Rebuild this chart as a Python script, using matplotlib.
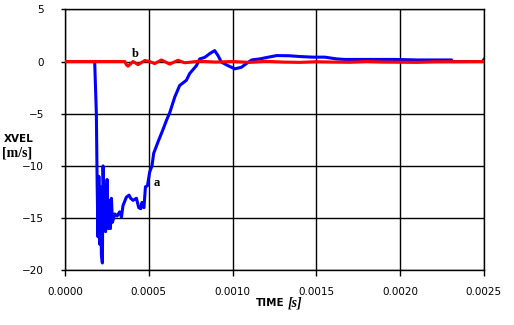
import numpy as np
import matplotlib
matplotlib.use('Agg')
import matplotlib.pyplot as plt

# curve a (blue) - time [s], velocity [m/s]
t_a = [0.0, 0.000177, 0.000187, 0.000192, 0.000197, 0.000202, 0.000207, 0.000212,
       0.000217, 0.000223, 0.000227, 0.000233, 0.000242, 0.000251, 0.000258, 0.000267,
       0.000271, 0.000277, 0.000283, 0.000297, 0.000311, 0.000326, 0.000337, 0.000346,
       0.000366, 0.000382, 0.000392, 0.000406, 0.000426, 0.000440, 0.000452, 0.000459,
       0.000471, 0.000480, 0.000492, 0.000499, 0.000505, 0.000519, 0.000529, 0.000555,
       0.000585, 0.000605, 0.000625, 0.000655, 0.000684, 0.000724, 0.000744, 0.000784,
       0.000804, 0.000834, 0.000863, 0.000893, 0.000913, 0.000933, 0.000973, 0.001013,
       0.001053, 0.001082, 0.001114, 0.001162, 0.001192, 0.001263, 0.001340, 0.001400,
       0.001478, 0.001550, 0.001621, 0.001669, 0.001818, 0.001967, 0.002104, 0.002307,
       0.002312, 0.002492, 0.0025]
v_a = [0.0, 0.0, -5.0, -12.0, -16.8, -11.0, -17.5, -12.0,
       -18.5, -19.3, -10.0, -14.0, -16.3, -11.3, -16.0, -13.3,
       -16.0, -13.1, -15.4, -14.6, -14.8, -14.4, -14.9, -13.8,
       -13.0, -12.8, -13.1, -13.3, -13.1, -14.0, -14.1, -13.5,
       -14.0, -12.0, -11.9, -11.2, -10.6, -10.0, -8.8, -7.7,
       -6.5, -5.65, -4.9, -3.4, -2.3, -1.8, -1.15, -0.4,
       0.25, 0.4, 0.75, 1.05, 0.57, -0.05, -0.4, -0.7,
       -0.55, -0.2, 0.15, 0.25, 0.35, 0.57, 0.55, 0.48,
       0.42, 0.42, 0.25, 0.2, 0.2, 0.2, 0.15, 0.15,
       0.0, 0.0, 0.2]

# curve b (red)
t_b = [0.0, 0.000357, 0.000366, 0.000376, 0.000406, 0.000436, 0.000476, 0.000505,
       0.000535, 0.000575, 0.000625, 0.000674, 0.000714, 0.0008, 0.0009, 0.0010,
       0.0011, 0.0012, 0.0013, 0.0014, 0.0015, 0.0016, 0.0017, 0.0018, 0.0019,
       0.0021, 0.0022, 0.0025]
v_b = [0.0, 0.0, -0.3, -0.45, 0.0, -0.3, 0.1, 0.0,
       -0.2, 0.15, -0.25, 0.12, -0.12, 0.03, -0.05, 0.0,
       -0.08, 0.02, -0.05, -0.08, -0.02, -0.05, -0.07, 0.0, -0.05,
       -0.08, -0.03, 0.0]

xticks = [0.0, 0.0005, 0.0010, 0.0015, 0.0020, 0.0025]
yticks = [-20, -15, -10, -5, 0, 5]

fig = plt.figure(figsize=(5.14, 3.25), dpi=100)
ax = fig.add_axes([0.1265, 0.1683, 0.815, 0.803])

ax.plot(t_a, v_a, color='#0000FF', lw=2.2, zorder=3)
ax.plot(t_b, v_b, color='#FF0000', lw=2.2, zorder=4)

ax.set_xlim(0, 0.0025)
ax.set_ylim(-20, 5)
ax.set_xticks(xticks)
ax.set_xticklabels(['%.4f' % x for x in xticks])
ax.set_yticks(yticks)
ax.grid(True, color='black', lw=1.0)
for s in ax.spines.values():
    s.set_color('black')
    s.set_linewidth(1.0)
ax.tick_params(axis='x', length=4, width=1.0, labelsize=7.5, pad=8)
ax.tick_params(axis='y', length=3, width=1.0, labelsize=7.5, pad=12)
for lab in ax.get_xticklabels() + ax.get_yticklabels():
    lab.set_family('DejaVu Sans')

ax.text(0.000422, 0.74, 'b', fontsize=9, fontweight='bold', family='Liberation Serif',
        ha='center', va='center')
ax.text(0.000548, -11.65, 'a', fontsize=9, fontweight='bold', family='Liberation Serif',
        ha='center', va='center')

fig.text(19 / 514, 1 - 139 / 325, 'XVEL', fontsize=7.5, fontweight='bold',
         family='DejaVu Sans', ha='center', va='center')
fig.text(17 / 514, 1 - 153 / 325, '[m/s]', fontsize=10, fontweight='bold',
         family='Liberation Serif', ha='center', va='center')
fig.text(270 / 514, 1 - 303 / 325, 'TIME', fontsize=7.5, fontweight='bold',
         family='DejaVu Sans', ha='center', va='center')
fig.text(295 / 514, 1 - 303 / 325, '[s]', fontsize=10, fontweight='bold', style='italic',
         family='Liberation Serif', ha='center', va='center')

fig.savefig('out.png', dpi=100)
